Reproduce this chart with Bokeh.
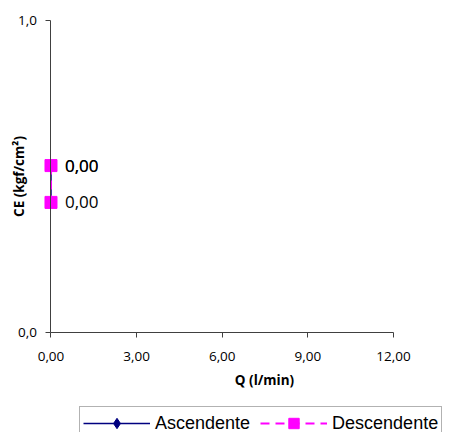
import math
from bokeh.plotting import figure
from bokeh.models import (Range1d, FixedTicker, Legend, LegendItem, Label,
                          ColumnDataSource)
from bokeh.core.properties import value
from bokeh.embed import file_html
from bokeh.resources import INLINE

# ---- data ----
q_asc = [0.0, 0.0]
ce_asc = [0.535, 0.417]
q_desc = [0.0, 0.0]
ce_desc = [0.535, 0.417]
labels_asc = ["0,00", ""]
labels_desc = ["0,00", "0,00"]

x_ticks = [0, 3, 6, 9, 12]
x_tick_labels = ["0,00", "3,00", "6,00", "9,00", "12,00"]
y_ticks = [0.0, 1.0]
y_tick_labels = ["0,0", "1,0"]

series_names = ["Ascendente", "Descendente"]
x_title = "Q (l/min)"
y_title = "CE (kgf/cm²)"

TICK_FONT = "Open Sans"
AXIS_COLOR = "#404040"

# frame covers the whole canvas; axes are drawn at x=0 / y=0
p = figure(width=450, height=432, output_backend="svg", toolbar_location=None,
           x_range=Range1d(-1.769, 13.997), y_range=Range1d(-0.3205, 1.0641),
           min_border_left=0, min_border_right=0, min_border_top=0,
           min_border_bottom=0)
p.outline_line_color = None
p.xgrid.visible = False
p.ygrid.visible = False
p.background_fill_color = "white"
p.border_fill_color = "white"

xa = p.xaxis[0]
xa.fixed_location = 0
xa.bounds = (x_ticks[0], x_ticks[-1])
xa.ticker = FixedTicker(ticks=x_ticks)
xa.major_label_overrides = {t: l for t, l in zip(x_ticks, x_tick_labels)}
xa.minor_tick_line_color = None
xa.major_tick_in = 0
xa.major_tick_out = 5
xa.axis_line_color = AXIS_COLOR
xa.major_tick_line_color = AXIS_COLOR
xa.major_label_text_font = TICK_FONT
xa.major_label_text_font_size = "13.5px"
xa.major_label_text_color = "black"
xa.major_label_standoff = 14

ya = p.yaxis[0]
ya.fixed_location = 0
ya.bounds = (y_ticks[0], y_ticks[-1])
ya.ticker = FixedTicker(ticks=y_ticks)
ya.major_label_overrides = {t: l for t, l in zip(y_ticks, y_tick_labels)}
ya.minor_tick_line_color = None
ya.major_tick_in = 0
ya.major_tick_out = 5
ya.axis_line_color = AXIS_COLOR
ya.major_tick_line_color = AXIS_COLOR
ya.major_label_text_font = TICK_FONT
ya.major_label_text_font_size = "13.5px"
ya.major_label_text_color = "black"
ya.major_label_standoff = 9

# series
l1 = p.line(q_asc, ce_asc, line_color="#000080", line_width=1.5)
s1 = p.scatter(q_asc, ce_asc, marker="diamond", size=11, fill_color="#000080",
               line_color="#000080")
l2 = p.line(q_desc, ce_desc, line_color="#FF00FF", line_width=2, line_dash="9 6")
s2 = p.scatter(q_desc, ce_desc, marker="square", size=12, fill_color="#FF00FF",
               line_color="#FF00FF")

src_a = ColumnDataSource(dict(x=q_asc, y=ce_asc, t=labels_asc))
src_d = ColumnDataSource(dict(x=q_desc, y=ce_desc, t=labels_desc))
for src in (src_d, src_a):
    p.text(x="x", y="y", text="t", source=src, x_offset=14,
           text_baseline="middle", text_align="left",
           text_font=value(TICK_FONT), text_font_size="17px", text_color="black")

# axis titles
p.add_layout(Label(x=7.48, y=0, y_offset=-47, text=x_title,
                   text_align="center", text_baseline="middle",
                   text_font=TICK_FONT, text_font_size="13.5px",
                   text_font_style="bold", text_color="black"))
p.add_layout(Label(x=0, y=0.5, x_offset=-31.5, text=y_title, angle=math.pi / 2,
                   text_align="center", text_baseline="middle",
                   text_font=TICK_FONT, text_font_size="13.5px",
                   text_font_style="bold", text_color="black"))

legend = Legend(items=[LegendItem(label=series_names[0], renderers=[l1, s1]),
                       LegendItem(label=series_names[1], renderers=[l2, s2])],
                orientation="horizontal", location=(79, -8),
                border_line_color="#666666", border_line_width=1,
                background_fill_color="white", background_fill_alpha=1,
                glyph_width=67, glyph_height=26, label_standoff=5,
                spacing=10, padding=3, margin=0,
                label_text_font="Liberation Sans", label_text_font_size="18px",
                label_text_color="black")
p.add_layout(legend, "center")

open("out.html", "w").write(file_html(p, INLINE))
